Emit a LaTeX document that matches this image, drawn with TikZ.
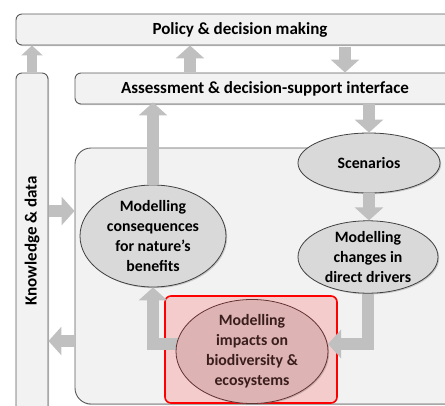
\documentclass[tikz,border=0pt]{standalone}
\usepackage{fontspec}
\setmainfont{Carlito}
\usetikzlibrary{arrows.meta,shadows,calc,shapes.geometric}
\definecolor{boxfill}{HTML}{F2F2F2}
\definecolor{boxline}{HTML}{5A5A5A}
\definecolor{ellfill}{HTML}{D9D9D9}
\definecolor{ellline}{HTML}{404040}
\definecolor{arrowgray}{HTML}{C0C0C0}
\definecolor{redfill}{HTML}{F4CCCC}
\definecolor{redline}{HTML}{FF0000}
\definecolor{impfill}{HTML}{DDB3B3}
\definecolor{imptext}{HTML}{3A1E1E}
\tikzset{
  shad/.style={drop shadow={shadow xshift=1.2pt,shadow yshift=-1.2pt,opacity=0.3,fill=black!60}},
  bar/.style={draw=boxline,fill=boxfill,line width=0.9pt,rounded corners=6pt,shad,
    inner sep=0pt,font=\bfseries\fontsize{17}{20}\selectfont},
  ell/.style={ellipse,draw=ellline,fill=ellfill,line width=0.8pt,shad,inner sep=0pt,align=center,
    font=\bfseries\fontsize{15.8}{20}\selectfont},
  arr/.style={draw=arrowgray,line width=12pt,line join=miter,-{Triangle[width=28pt,length=13pt]}},
  arrsmall/.style={draw=arrowgray,line width=10pt,-{Triangle[width=21pt,length=10pt]}},
}
\begin{document}
\begin{tikzpicture}[x=1pt,y=-1pt]
\useasboundingbox (0,0) rectangle (445,405);
\clip (0,0) rectangle (445,405);
% boxes
\node[bar,minimum width=448pt,minimum height=31pt] (policy) at (240,29.5) {Policy \& decision making};
\node[bar,minimum width=380pt,minimum height=31pt] (assess) at (265,88.5) {Assessment \& decision-support interface};
\node[bar,minimum width=32pt,minimum height=360pt] (know) at (32,253) {};
\node[rotate=90,font=\bfseries\fontsize{17}{20}\selectfont] (knowtext) at (32,241) {Knowledge \& data};
\node[draw=boxline,fill=boxfill,line width=0.9pt,rounded corners=16pt,shad,inner sep=0pt,
  minimum width=400pt,minimum height=256pt] (inner) at (275,276) {};
\node[draw=redline,fill=redfill,line width=1.6pt,rounded corners=6pt,inner sep=0pt,
  minimum width=172pt,minimum height=107pt] (redbox) at (251,349.5) {};
% coordinates
\coordinate (k1) at (32,72);
\coordinate (a1) at (190,72);
\coordinate (p1) at (345,47);
\coordinate (kin) at (49,211);
\coordinate (inl) at (75,341);
% arrows between the boxes
\draw[arrsmall] (k1) -- (k1 |- policy.south);
\draw[arr] (a1) -- (a1 |- policy.south);
\draw[arr] (p1) -- (p1 |- assess.north);
\draw[arr] (kin) -- (kin -| inner.west);
\draw[arr] (inl) -- (inl -| know.east);
% ellipses
\node[ell,minimum width=142pt,minimum height=60pt] (scen) at (369,163) {Scenarios};
\node[ell,minimum width=140pt,minimum height=71pt] (drivers) at (368,257) {Modelling\\changes in\\direct drivers};
\node[ell,minimum width=146pt,minimum height=102pt] (cons) at (153,236) {Modelling\\consequences\\for nature’s\\benefits};
\draw[arr] (scen.north |- assess.south) -- (scen.north);
\draw[arr] (scen.south) -- (scen.south |- drivers.north);
\draw[arr] (cons.north) -- ([yshift=2pt]cons.north |- assess.south);
\coordinate (impr) at (328,344);
\coordinate (impl) at (252,344);
\draw[arr] (drivers.south) |- (impr);
\draw[arr] (impl) -| (cons.south);
\node[ell,draw=ellline!80!red,fill=impfill,text=imptext,minimum width=152pt,minimum height=93pt] (impacts) at (252,351.5) {Modelling\\impacts on\\biodiversity \&\\ecosystems};
\end{tikzpicture}
\end{document}
